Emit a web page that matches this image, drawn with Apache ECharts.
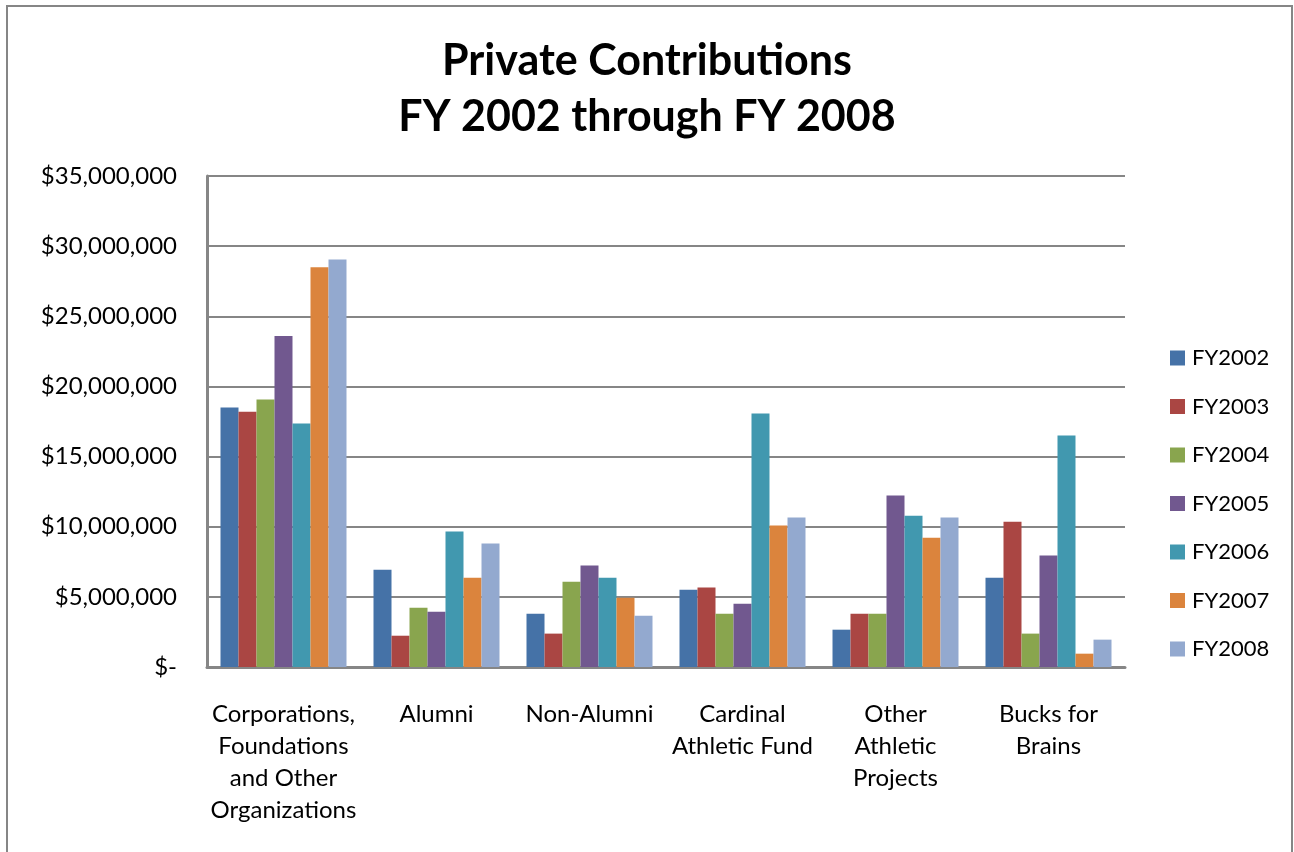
<!DOCTYPE html>
<html>
<head>
<meta charset="utf-8">
<script src="https://cdn.jsdelivr.net/npm/echarts@6/dist/echarts.min.js"></script>
<style>
html,body{margin:0;padding:0;background:#fff;}
#c{width:1294px;height:852px;}
</style>
</head>
<body>
<div id="c"></div>
<script>
const categories = [
  'Corporations,\nFoundations\nand Other\nOrganizations',
  'Alumni',
  'Non-Alumni',
  'Cardinal\nAthletic Fund',
  'Other\nAthletic\nProjects',
  'Bucks for\nBrains'
];
const seriesNames = ['FY2002','FY2003','FY2004','FY2005','FY2006','FY2007','FY2008'];
const fy2002 = [18500000, 6940000, 3800000, 5510000, 2660000, 6370000];
const fy2003 = [18200000, 2230000, 2380000, 5660000, 3800000, 10360000];
const fy2004 = [19070000, 4230000, 6080000, 3800000, 3800000, 2380000];
const fy2005 = [23600000, 3940000, 7230000, 4510000, 12220000, 7940000];
const fy2006 = [17350000, 9650000, 6370000, 18070000, 10790000, 16500000];
const fy2007 = [28500000, 6370000, 4940000, 10080000, 9220000, 950000];
const fy2008 = [29050000, 8800000, 3660000, 10650000, 10650000, 1950000];
const seriesValues = [fy2002, fy2003, fy2004, fy2005, fy2006, fy2007, fy2008];
const colors = ['#4572A7','#AA4643','#89A54E','#71588F','#4198AF','#DB843D','#93A9CF'];

const FONT = 'Lato, "Open Sans", sans-serif';
const chart = echarts.init(document.getElementById('c'), null, {renderer:'canvas'});
chart.setOption({
  animation: false,
  backgroundColor: '#fff',
  color: colors,
  textStyle: { fontFamily: FONT, color: '#000' },
  title: {
    text: 'Private Contributions\nFY 2002 through FY 2008',
    left: 'center',
    top: 28,
    textStyle: { fontFamily: FONT, fontSize: 43, fontWeight: 'bold', color: '#000', lineHeight: 56 }
  },
  graphic: [{
    type: 'rect',
    shape: { x: 7, y: 6, width: 1285, height: 900 },
    style: { fill: 'none', stroke: '#868686', lineWidth: 2 },
    silent: true
  }],
  legend: {
    orient: 'vertical',
    left: 1165,
    top: 341,
    itemWidth: 15,
    itemHeight: 15,
    itemGap: 24.5,
    icon: 'rect',
    data: seriesNames,
    textStyle: { fontFamily: FONT, fontSize: 22, color: '#000', lineHeight: 24, padding: [0,0,0,2] }
  },
  grid: { left: 207, right: 169, top: 176, bottom: 185, containLabel: false },
  xAxis: {
    type: 'category',
    data: categories,
    axisLine: { show: true, lineStyle: { color: '#868686', width: 3 } },
    axisTick: { show: false },
    axisLabel: { interval: 0, margin: 31, fontSize: 24, lineHeight: 32, color: '#000', fontFamily: FONT }
  },
  yAxis: {
    type: 'value',
    min: 0,
    max: 35000000,
    interval: 5000000,
    axisLine: { show: true, lineStyle: { color: '#868686', width: 3 } },
    axisTick: { show: false },
    splitLine: { show: true, lineStyle: { color: '#868686', width: 2 } },
    axisLabel: {
      margin: 30,
      fontSize: 24,
      color: '#000',
      fontFamily: FONT,
      formatter: function (v) { return v === 0 ? '$-' : '$' + v.toLocaleString('en-US'); }
    }
  },
  series: seriesNames.map((n, i) => ({
    name: n,
    type: 'bar',
    data: seriesValues[i],
    barGap: '0%',
    barCategoryGap: '17.65%',
    itemStyle: { color: colors[i] }
  }))
});
</script>
</body>
</html>
